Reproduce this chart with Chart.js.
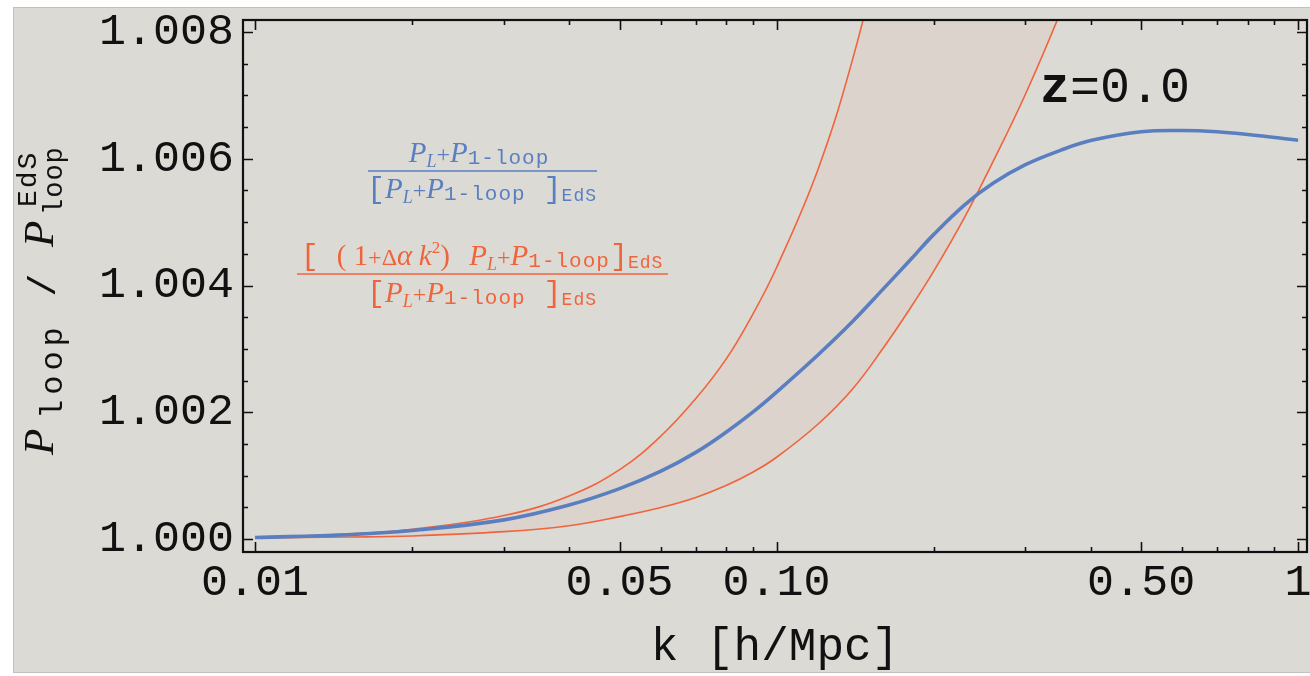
<!DOCTYPE html>
<html><head><meta charset="utf-8">
<script src="https://cdn.jsdelivr.net/npm/chart.js@4.4.0/dist/chart.umd.min.js"></script>
<style>html,body{margin:0;padding:0;background:#fff;}canvas{display:block;}</style>
</head><body>
<canvas id="c" width="1310" height="676"></canvas>
<script>
// ---- data ----
const kValues    = [0.01, 0.015, 0.02, 0.03, 0.04, 0.05, 0.06, 0.07, 0.08, 0.09, 0.1, 0.12, 0.14, 0.16, 0.18, 0.2, 0.23, 0.26, 0.3, 0.35, 0.4, 0.5, 0.6, 0.7, 0.8, 1.0];
const ratioBlue  = [1.000024, 1.000067, 1.000134, 1.000302, 1.000536, 1.000795, 1.001070, 1.001367, 1.001685, 1.002002, 1.002319, 1.002904, 1.003436, 1.003943, 1.004394, 1.004803, 1.005281, 1.005612, 1.005906, 1.006132, 1.006287, 1.006426, 1.006446, 1.006427, 1.006384, 1.006293];
const bandUpper  = [1.000024, 1.000077, 1.000153, 1.000370, 1.000680, 1.001095, 1.001625, 1.002216, 1.002838, 1.003546, 1.004285, 1.005828, 1.007581, 1.00952, 1.01163, 1.01374, 1.0165, 1.0195, 1.024, 1.030, 1.036, 1.050, 1.066, 1.083, 1.100, 1.140];
const bandLower  = [1.000016, 1.000031, 1.000048, 1.000116, 1.000210, 1.000353, 1.000496, 1.000655, 1.000843, 1.001053, 1.001290, 1.001811, 1.002372, 1.003010, 1.003629, 1.004222, 1.005095, 1.005954, 1.007019, 1.008308, 1.009551, 1.01186, 1.01393, 1.01585, 1.01765, 1.0210];

const xMajorTicks  = [0.01, 0.05, 0.1, 0.5, 1];
const xMajorLabels = ['0.01', '0.05', '0.10', '0.50', '1'];
const xMinorTicks  = [0.02, 0.03, 0.04, 0.06, 0.07, 0.08, 0.09, 0.2, 0.3, 0.4, 0.6, 0.7, 0.8, 0.9];
const yMajorTicks  = [1.000, 1.002, 1.004, 1.006, 1.008];
const yMajorLabels = ['1.000', '1.002', '1.004', '1.006', '1.008'];
const yMinorTicks  = [1.0005, 1.001, 1.0015, 1.0025, 1.003, 1.0035, 1.0045, 1.005, 1.0055, 1.0065, 1.007, 1.0075];
const xRange = [0.00948, 1.04];
const yRange = [0.999795, 1.00819];
const xTitle = 'k [h/Mpc]';
const redshiftLabel = ['z', '=0.0'];

// ---- styles ----
const BLUE = '#5a7fc1';
const ORANGE = '#f0643c';
const BAND = 'rgba(235,140,110,0.08)';
const PANEL = '#dcdad5';
const INK = '#111111';
const SERIF = '"Liberation Serif", "DejaVu Serif", serif';
const MONO = '"Liberation Mono", "DejaVu Sans Mono", monospace';

function setLS(ctx, ls) { if ('letterSpacing' in ctx) ctx.letterSpacing = (ls || 0) + 'px'; }
function richWidth(ctx, segs) {
  let t = 0;
  segs.forEach(s => { ctx.font = s.f; setLS(ctx, s.ls); s.w = ctx.measureText(s.t).width; t += s.w; });
  setLS(ctx, 0);
  return t;
}
function drawRich(ctx, segs, cx, by, color, align) {
  ctx.save();
  ctx.fillStyle = color; ctx.textAlign = 'left'; ctx.textBaseline = 'alphabetic';
  const total = richWidth(ctx, segs);
  let x = align === 'left' ? cx : cx - total / 2;
  segs.forEach(s => { ctx.font = s.f; setLS(ctx, s.ls); ctx.fillText(s.t, x, by + (s.dy || 0)); x += s.w; });
  setLS(ctx, 0);
  ctx.restore();
  return total;
}
const Pseg = () => [
  {t: 'P', f: `italic 29px ${SERIF}`},
  {t: 'L', f: `italic 18px ${SERIF}`, dy: 5},
  {t: '+', f: `24px ${SERIF}`},
  {t: 'P', f: `italic 29px ${SERIF}`},
  {t: '1-loop', f: `21px ${MONO}`, dy: 2, ls: 1}
];
const denom = () => [{t: '[', f: `30px ${MONO}`}].concat(Pseg(), [{t: ' ]', f: `30px ${MONO}`}, {t: 'EdS', f: `18px ${MONO}`, dy: 3, ls: 1}]);
const orangeNum = () => [
  {t: '[ ', f: `30px ${MONO}`},
  {t: '(', f: `29px ${SERIF}`},
  {t: ' 1', f: `29px ${SERIF}`},
  {t: '+', f: `24px ${SERIF}`},
  {t: '\u0394', f: `24px ${SERIF}`},
  {t: '\u03b1', f: `italic 29px ${SERIF}`},
  {t: ' ', f: `26px ${SERIF}`},
  {t: 'k', f: `italic 29px ${SERIF}`},
  {t: '2', f: `17px ${SERIF}`, dy: -12},
  {t: ')', f: `29px ${SERIF}`},
  {t: '   ', f: `26px ${SERIF}`}
].concat(Pseg(), [{t: ']', f: `30px ${MONO}`}, {t: 'EdS', f: `18px ${MONO}`, dy: 3, ls: 1}]);

const decorPlugin = {
  id: 'decor',
  beforeDraw(chart) {
    const ctx = chart.ctx;
    ctx.save();
    ctx.fillStyle = '#ffffff';
    ctx.fillRect(0, 0, chart.width, chart.height);
    ctx.fillStyle = PANEL;
    ctx.fillRect(13, 7, chart.width - 13, 666);
    ctx.strokeStyle = 'rgba(160,160,160,0.45)';
    ctx.lineWidth = 1;
    ctx.strokeRect(13.5, 7.5, chart.width, 665);
    ctx.restore();
  },
  afterDatasetsDraw(chart) {
    const ctx = chart.ctx;
    const a = chart.chartArea;
    const xs = chart.scales.x, ys = chart.scales.y;
    ctx.save();
    // ticks (inward, on all four sides)
    ctx.strokeStyle = INK; ctx.lineWidth = 1.6;
    ctx.beginPath();
    const xt = (v, len) => {
      const p = Math.round(xs.getPixelForValue(v)) + 0.5;
      ctx.moveTo(p, a.bottom); ctx.lineTo(p, a.bottom - len);
      ctx.moveTo(p, a.top); ctx.lineTo(p, a.top + len);
    };
    const yt = (v, len) => {
      const p = Math.round(ys.getPixelForValue(v)) + 0.5;
      ctx.moveTo(a.left, p); ctx.lineTo(a.left + len, p);
      ctx.moveTo(a.right, p); ctx.lineTo(a.right - len, p);
    };
    xMajorTicks.forEach(v => xt(v, 10));
    xMinorTicks.forEach(v => xt(v, 5));
    yMajorTicks.forEach(v => yt(v, 10));
    yMinorTicks.forEach(v => yt(v, 5));
    ctx.stroke();
    // frame
    ctx.lineWidth = 2.2;
    ctx.strokeRect(a.left, a.top, a.right - a.left, a.bottom - a.top);
    ctx.restore();

    // fraction annotations
    drawRich(ctx, Pseg(), 479, 162, BLUE);
    ctx.save(); ctx.strokeStyle = BLUE; ctx.lineWidth = 1.5;
    ctx.beginPath(); ctx.moveTo(368, 171); ctx.lineTo(597, 171); ctx.stroke(); ctx.restore();
    drawRich(ctx, denom(), 482, 198, BLUE);

    drawRich(ctx, orangeNum(), 482, 265, ORANGE);
    ctx.save(); ctx.strokeStyle = ORANGE; ctx.lineWidth = 1.5;
    ctx.beginPath(); ctx.moveTo(297, 274); ctx.lineTo(668, 274); ctx.stroke(); ctx.restore();
    drawRich(ctx, denom(), 482, 302, ORANGE);

    // redshift label
    drawRich(ctx, [
      {t: redshiftLabel[0], f: `bold 50px ${MONO}`},
      {t: redshiftLabel[1], f: `50px ${MONO}`}
    ], 1040, 102, INK, 'left');

    // y-axis title (rotated, reads bottom to top)
    ctx.save();
    ctx.translate(0, 455);
    ctx.rotate(-Math.PI / 2);
    ctx.fillStyle = INK; ctx.textBaseline = 'alphabetic';
    const put = (t, f, u, v, ls, align) => {
      ctx.font = f; setLS(ctx, ls); ctx.textAlign = align || 'left';
      ctx.fillText(t, u, v); setLS(ctx, 0);
    };
    put('P', `italic 43px ${SERIF}`, 0, 53);
    put('loop', `32px ${MONO}`, 36, 62, 5);
    put('/', `38px ${MONO}`, 170, 55, 0, 'center');
    put('P', `italic 43px ${SERIF}`, 208, 53);
    put('EdS', `28px ${MONO}`, 248, 36, 2);
    put('loop', `27px ${MONO}`, 240, 62, 1);
    ctx.restore();
  }
};

const ctx = document.getElementById('c').getContext('2d');
const pts = arr => kValues.map((k, i) => ({x: k, y: arr[i]}));

new Chart(ctx, {
  type: 'line',
  data: {
    datasets: [
      {label: 'ratio', data: pts(ratioBlue), borderColor: BLUE, borderWidth: 3.6, pointRadius: 0, fill: false, tension: 0.4, order: 0, clip: 0},
      {label: 'upper', data: pts(bandUpper), borderColor: ORANGE, borderWidth: 1.6, pointRadius: 0, fill: false, tension: 0.4, order: 1, clip: 0},
      {label: 'lower', data: pts(bandLower), borderColor: ORANGE, borderWidth: 1.6, pointRadius: 0, fill: '-1', backgroundColor: BAND, tension: 0.4, order: 2, clip: 0}
    ]
  },
  options: {
    responsive: false,
    animation: false,
    devicePixelRatio: 1,
    layout: {padding: {top: 20, right: 3, left: 0, bottom: 0}},
    plugins: {legend: {display: false}, tooltip: {enabled: false}},
    scales: {
      x: {
        type: 'logarithmic', min: xRange[0], max: xRange[1], bounds: 'data',
        grid: {display: false}, border: {display: false},
        afterBuildTicks(s) { s.ticks = xMajorTicks.map(v => ({value: v})); },
        afterFit(s) { s.height = 124; s.paddingLeft = 0; s.paddingRight = 0; },
        ticks: {
          autoSkip: false, maxRotation: 0, minRotation: 0, padding: -4, color: INK,
          font: {family: '"Liberation Mono", "DejaVu Sans Mono", monospace', size: 45},
          callback: (v, i) => xMajorLabels[i]
        },
        title: {display: true, text: xTitle, color: INK, padding: {top: 0, bottom: 1},
          font: {family: '"Liberation Mono", "DejaVu Sans Mono", monospace', size: 46, lineHeight: 1.2}}
      },
      y: {
        type: 'linear', min: yRange[0], max: yRange[1], bounds: 'data',
        grid: {display: false}, border: {display: false},
        afterBuildTicks(s) { s.ticks = yMajorTicks.map(v => ({value: v})); },
        afterFit(s) { s.width = 243; s.paddingTop = 0; s.paddingBottom = 0; },
        ticks: {
          autoSkip: false, padding: 1, color: INK,
          font: {family: '"Liberation Mono", "DejaVu Sans Mono", monospace', size: 45},
          callback: (v, i) => yMajorLabels[i]
        }
      }
    }
  },
  plugins: [decorPlugin]
});
</script>
</body></html>
